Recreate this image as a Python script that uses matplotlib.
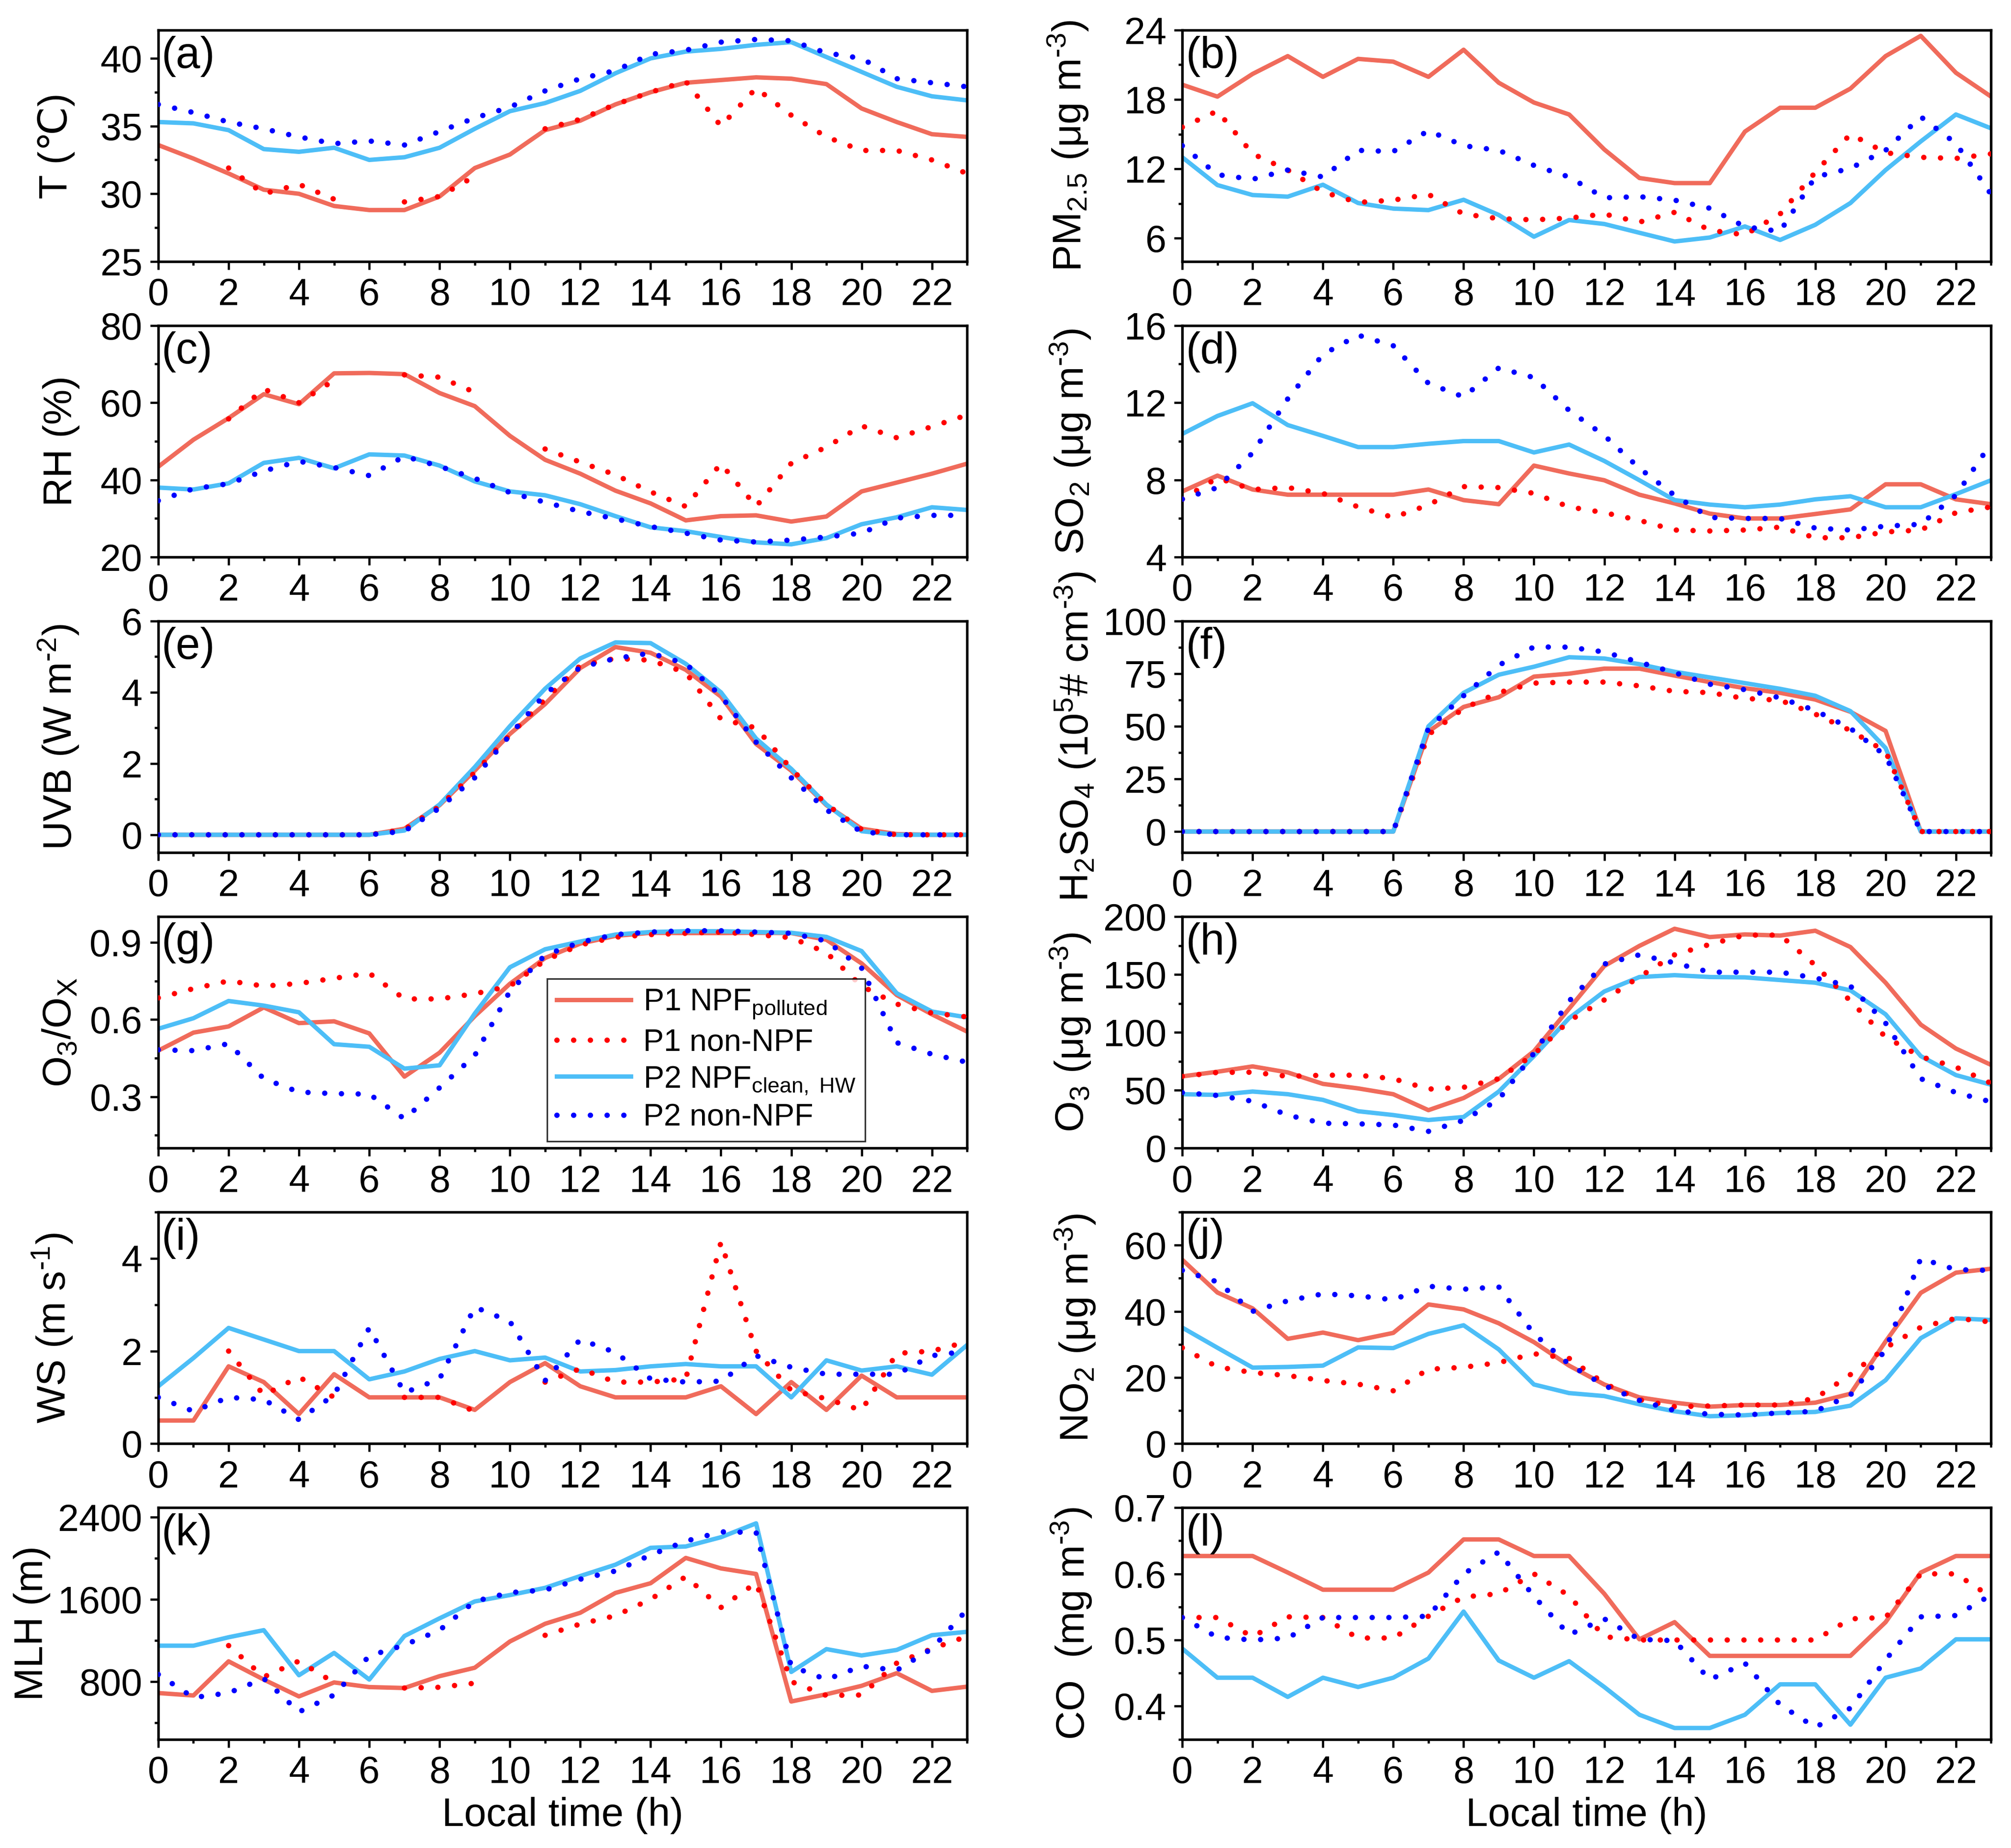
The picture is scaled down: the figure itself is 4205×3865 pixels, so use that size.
import numpy as np
import matplotlib
matplotlib.use('Agg')
from matplotlib import pyplot as plt
from matplotlib.ticker import MultipleLocator, AutoMinorLocator

plt.rcParams['font.family'] = ['Liberation Sans', 'DejaVu Sans']
plt.rcParams['mathtext.fontset'] = 'custom'
plt.rcParams['mathtext.rm'] = 'Liberation Sans'
plt.rcParams['mathtext.it'] = 'Liberation Sans:italic'
plt.rcParams['mathtext.bf'] = 'Liberation Sans:bold'

nan = np.nan
hours = np.arange(24)

# (a) temperature
T_p1_npf = [33.6, 32.6, 31.5, 30.3, 30.0, 29.1, 28.8, 28.8, 29.8, 31.9, 32.9, 34.7, 35.4, 36.6, 37.5, 38.2, 38.4, 38.6, 38.5, 38.1, 36.3, 35.3, 34.4, 34.2]
T_p1_non = [nan, nan, 31.9, 30.0, 30.7, 29.6, nan, 29.4, 29.8, 31.3, nan, 34.8, 35.5, 36.6, 37.5, 38.3, 35.0, 37.8, 35.8, 34.2, 33.2, 33.2, 32.5, 31.5]
T_p2_npf = [35.3, 35.2, 34.7, 33.3, 33.1, 33.4, 32.5, 32.7, 33.4, 34.8, 36.1, 36.7, 37.6, 38.9, 40.0, 40.5, 40.7, 41.0, 41.2, 40.1, 39.0, 37.9, 37.2, 36.9]
T_p2_non = [36.6, 36.0, 35.3, 34.8, 34.2, 33.7, 33.9, 33.6, 34.6, 35.6, 36.4, 37.6, 38.5, 39.1, 40.3, 40.6, 41.2, 41.4, 41.3, 40.4, 40.0, 38.5, 38.2, 37.9]

# (b) PM2.5
PM_p1_npf = [19.27, 18.24, 20.2, 21.74, 19.95, 21.5, 21.26, 19.95, 22.29, 19.44, 17.73, 16.7, 13.68, 11.21, 10.77, 10.77, 15.22, 17.28, 17.28, 18.93, 21.74, 23.49, 20.3, 18.24]
PM_p1_non = [15.6, 17.0, 13.3, 11.9, 10.0, 9.1, 9.3, 9.8, 8.1, 7.7, 7.6, 7.75, 8.1, 7.4, 8.25, 6.7, 6.3, 8.1, 11.7, 15.0, 13.4, 13.0, 12.9, 13.3]
PM_p2_npf = [13.0, 10.6, 9.74, 9.6, 10.63, 9.05, 8.57, 8.44, 9.33, 8.02, 6.14, 7.58, 7.24, 6.48, 5.73, 6.07, 7.03, 5.86, 7.17, 9.05, 11.9, 14.37, 16.7, 15.5]
PM_p2_non = [14.0, 11.5, 11.1, 11.9, 11.3, 13.6, 13.5, 15.3, 14.0, 13.6, 12.3, 11.3, 9.5, 9.6, 9.3, 8.6, 7.0, 6.6, 11.3, 12.05, 13.6, 16.5, 14.2, 9.8]

# (c) RH
RH_p1_npf = [43.4, 50.4, 56.0, 62.2, 59.6, 67.6, 67.7, 67.4, 62.5, 59.1, 51.4, 45.2, 41.6, 37.2, 33.9, 29.5, 30.6, 30.8, 29.2, 30.5, 37.0, 39.3, 41.6, 44.2]
RH_p1_non = [nan, nan, 55.8, 63.5, 60.0, 65.8, nan, 67.2, 66.6, 62.7, nan, 48.0, 44.6, 41.3, 36.9, 33.1, 44.2, 33.1, 44.3, 48.5, 54.0, 50.9, 53.8, 56.8]
RH_p2_npf = [38.0, 37.5, 39.1, 44.4, 45.7, 43.0, 46.6, 46.3, 43.7, 39.6, 37.0, 36.0, 33.7, 30.6, 27.7, 26.7, 25.2, 23.8, 23.3, 24.9, 28.5, 30.3, 32.9, 32.2]
RH_p2_non = [34.6, 37.7, 39.0, 42.3, 44.8, 43.2, 41.1, 46.1, 43.5, 40.4, 36.7, 34.2, 31.8, 29.9, 27.9, 26.2, 24.4, 23.9, 24.4, 25.2, 26.2, 30.1, 30.8, 30.8]

# (d) SO2
SO2_p1_npf = [7.4, 8.22, 7.5, 7.23, 7.23, 7.23, 7.23, 7.5, 6.95, 6.74, 8.74, 8.33, 7.98, 7.23, 6.78, 6.25, 6.0, 6.0, 6.23, 6.47, 7.77, 7.77, 6.99, 6.74]
SO2_p1_non = [7.0, 8.1, 7.5, 7.6, 7.3, 6.6, 6.05, 6.7, 7.65, 7.6, 7.3, 6.6, 6.3, 5.9, 5.4, 5.35, 5.4, 5.55, 5.0, 5.0, 5.3, 5.4, 6.3, 6.6]
SO2_p2_npf = [10.38, 11.31, 11.97, 10.84, 10.28, 9.7, 9.7, 9.87, 10.01, 10.01, 9.42, 9.83, 8.98, 7.98, 6.95, 6.72, 6.58, 6.72, 6.99, 7.15, 6.58, 6.58, 7.26, 7.98]
SO2_p2_non = [7.0, 7.6, 9.4, 12.2, 14.5, 15.5, 14.95, 13.0, 12.3, 13.8, 13.3, 11.6, 10.3, 8.6, 7.2, 6.05, 6.0, 6.0, 5.5, 5.4, 5.6, 5.7, 7.2, 9.9]

# (e) UVB
UVB_p1_npf = [0, 0, 0, 0, 0, 0, 0, 0.17, 0.83, 1.8, 2.83, 3.67, 4.68, 5.27, 5.11, 4.63, 3.88, 2.55, 1.8, 0.83, 0.17, 0.02, 0, 0]
UVB_p1_non = [0, 0, 0, 0, 0, 0, 0, 0.15, 0.8, 1.75, 2.8, 3.8, 4.75, 4.95, 4.9, 4.55, 3.25, 3.0, 1.85, 0.85, 0.15, 0, 0, 0]
UVB_p2_npf = [0, 0, 0, 0, 0, 0, 0, 0.12, 0.85, 1.9, 3.05, 4.1, 4.95, 5.4, 5.38, 4.8, 4.0, 2.7, 1.85, 0.85, 0.1, 0, 0, 0]
UVB_p2_non = [0, 0, 0, 0, 0, 0, 0, 0.1, 0.75, 1.6, 2.8, 3.95, 4.7, 4.95, 5.1, 4.8, 3.9, 2.6, 1.6, 0.7, 0.08, 0, 0, 0]

# (f) H2SO4
H2SO4_p1_npf = [0, 0, 0, 0, 0, 0, 0, 47.5, 59.2, 63.8, 73.6, 75.0, 77.4, 77.4, 74.1, 71.0, 68.1, 65.9, 62.7, 56.9, 47.8, 0, 0, 0]
H2SO4_p1_non = [0, 0, 0, 0, 0, 0, 0, 46.0, 58.5, 66.0, 70.5, 71.0, 71.0, 69.2, 66.6, 66.0, 63.2, 62.4, 55.8, 48.0, 38.0, 0, 0, 0]
H2SO4_p2_npf = [0, 0, 0, 0, 0, 0, 0, 50.0, 65.9, 74.5, 78.3, 82.8, 82.2, 79.5, 75.9, 73.2, 70.5, 67.8, 64.5, 57.2, 39.7, 0, 0, 0]
H2SO4_p2_non = [0, 0, 0, 0, 0, 0, 0, 49.0, 64.5, 79.0, 87.7, 87.6, 85.3, 80.4, 75.5, 70.0, 67.4, 63.5, 57.5, 49.0, 36.0, 0, 0, 0]

# (g) O3/Ox
OX_p1_npf = [0.479, 0.549, 0.573, 0.647, 0.586, 0.593, 0.546, 0.378, 0.471, 0.613, 0.739, 0.839, 0.895, 0.925, 0.937, 0.936, 0.936, 0.937, 0.936, 0.91, 0.818, 0.695, 0.62, 0.553]
OX_p1_non = [0.684, 0.72, 0.75, 0.73, 0.74, 0.76, 0.78, 0.68, 0.68, 0.70, 0.73, 0.83, 0.89, 0.92, 0.93, 0.935, 0.94, 0.93, 0.918, 0.86, 0.73, 0.66, 0.625, 0.61]
OX_p2_npf = [0.564, 0.605, 0.672, 0.654, 0.628, 0.504, 0.494, 0.409, 0.422, 0.623, 0.803, 0.873, 0.903, 0.93, 0.94, 0.943, 0.943, 0.94, 0.937, 0.921, 0.866, 0.702, 0.631, 0.608]
OX_p2_non = [0.482, 0.479, 0.506, 0.37, 0.318, 0.312, 0.31, 0.214, 0.335, 0.46, 0.71, 0.85, 0.90, 0.93, 0.94, 0.945, 0.945, 0.94, 0.935, 0.905, 0.80, 0.51, 0.465, 0.434]

# (h) O3
O3_p1_npf = [62, 66, 70.6, 65.4, 55.5, 51.6, 46.6, 32.8, 43.3, 59.8, 83.7, 120.5, 157.3, 174.7, 189.5, 182.3, 184.6, 183.6, 187.8, 173.7, 142.9, 106.7, 86, 71.9]
O3_p1_non = [62, 65.4, 65.6, 62, 63, 63, 60, 51, 52.5, 60, 81, 110, 128, 148, 167, 176, 184, 184, 158, 127, 96, 79, 70, 56]
O3_p2_npf = [46.6, 46, 48.9, 46.6, 41.7, 31.9, 28.6, 24.3, 26.9, 48.9, 79.5, 112.3, 135.3, 147.8, 149.4, 147.8, 147.5, 145.2, 142.9, 136.3, 115.6, 79.5, 63.1, 54.8]
O3_p2_non = [48, 45.5, 40.5, 28.5, 21.5, 21, 20, 14.5, 24, 42, 82, 127, 159, 167, 160, 152, 152, 152, 147, 140, 108, 60, 48, 40]

# (i) wind speed
WS_p1_npf = [0.5, 0.5, 1.67, 1.33, 0.64, 1.5, 1.0, 1.0, 1.0, 0.73, 1.33, 1.74, 1.24, 1.0, 1.0, 1.0, 1.24, 0.64, 1.33, 0.73, 1.47, 1.0, 1.0, 1.0]
WS_p1_non = [nan, nan, 2.0, 1.05, 1.44, 1.0, nan, 1.0, 1.0, 0.7, nan, 1.33, 1.62, 1.33, 1.33, 1.4, 4.35, 2.0, 1.15, 0.97, 0.72, 1.95, 2.0, 2.2]
WS_p2_npf = [1.24, 1.85, 2.5, 2.25, 2.0, 2.0, 1.39, 1.56, 1.83, 2.0, 1.8, 1.86, 1.56, 1.59, 1.67, 1.72, 1.67, 1.67, 1.0, 1.8, 1.58, 1.67, 1.49, 2.13]
WS_p2_non = [1.0, 0.7, 1.0, 0.95, 0.52, 1.05, 2.5, 1.1, 1.4, 2.95, 2.64, 1.36, 2.25, 1.97, 1.4, 1.33, 1.35, 1.9, 1.65, 1.5, 1.5, 1.5, 1.9, 2.0]

# (j) NO2
NO2_p1_npf = [55.6, 45.7, 40.9, 31.7, 33.6, 31.3, 33.5, 42.1, 40.6, 36.4, 30.7, 23.6, 17.9, 14.0, 12.4, 11.2, 11.7, 11.7, 12.4, 15.1, 30.9, 45.6, 51.7, 52.9]
NO2_p1_non = [29.0, 23.2, 21.5, 20.6, 19.1, 18.0, 16.0, 22.5, 23.1, 24.5, 27.2, 25.8, 18.2, 13.3, 11.2, 11.4, 11.7, 11.7, 13.7, 20.9, 29.0, 35.2, 37.9, 36.8]
NO2_p2_npf = [35.1, 29.0, 23.0, 23.2, 23.6, 29.1, 28.9, 33.2, 35.8, 28.5, 17.9, 15.3, 14.4, 11.9, 9.8, 8.3, 8.6, 9.3, 9.6, 11.5, 19.2, 31.9, 37.9, 37.4]
NO2_p2_non = [52.4, 48.9, 40.0, 43.2, 45.3, 44.7, 43.5, 47.6, 46.7, 47.4, 33.2, 24.0, 17.6, 13.1, 10.0, 8.9, 8.7, 9.3, 9.8, 14.7, 28.4, 56.0, 52.6, 52.4]

# (k) mixing layer height
MLH_p1_npf = [689, 665, 997, 820, 656, 792, 747, 738, 853, 935, 1190, 1362, 1469, 1662, 1756, 2002, 1900, 1846, 607, 677, 759, 882, 710, 751]
MLH_p1_non = [nan, nan, 1150, 845, 1000, 790, nan, 738, 745, 785, nan, 1250, 1360, 1440, 1600, 1820, 1520, 1760, 800, 665, 670, 980, 1120, 1240]
MLH_p2_npf = [1149, 1149, 1231, 1300, 862, 1079, 820, 1243, 1415, 1579, 1641, 1711, 1826, 1936, 2100, 2113, 2203, 2338, 894, 1116, 1054, 1108, 1251, 1284]
MLH_p2_non = [870, 645, 690, 830, 505, 670, 1050, 1155, 1300, 1580, 1665, 1690, 1795, 1875, 2030, 2165, 2255, 2250, 950, 820, 950, 910, 1120, 1500]

# (l) CO
CO_p1_npf = [0.627, 0.627, 0.627, 0.602, 0.576, 0.576, 0.576, 0.602, 0.652, 0.652, 0.627, 0.627, 0.570, 0.501, 0.527, 0.476, 0.476, 0.476, 0.476, 0.476, 0.527, 0.602, 0.627, 0.627]
CO_p1_non = [0.534, 0.534, 0.505, 0.535, 0.534, 0.503, 0.503, 0.536, 0.565, 0.57, 0.6, 0.567, 0.505, 0.5, 0.5, 0.5, 0.5, 0.5, 0.5, 0.532, 0.534, 0.6, 0.6, 0.565]
CO_p2_npf = [0.487, 0.443, 0.443, 0.414, 0.443, 0.429, 0.443, 0.472, 0.543, 0.469, 0.443, 0.468, 0.429, 0.387, 0.367, 0.367, 0.387, 0.433, 0.433, 0.372, 0.443, 0.457, 0.501, 0.501]
CO_p2_non = [0.534, 0.504, 0.5, 0.503, 0.534, 0.534, 0.534, 0.536, 0.6, 0.633, 0.566, 0.508, 0.532, 0.501, 0.499, 0.44, 0.465, 0.402, 0.368, 0.397, 0.47, 0.535, 0.537, 0.568]

labels = [r'P1 NPF$_{\mathrm{polluted}}$', 'P1 non-NPF',
          r'P2 NPF$_{\mathrm{clean,\ HW}}$', 'P2 non-NPF']

# panel: letter, series, ylabel, ylim, major step
panels = [
    ('(a)', (T_p1_npf, T_p1_non, T_p2_npf, T_p2_non), 'T (℃)', (25, 42.1), 5),
    ('(b)', (PM_p1_npf, PM_p1_non, PM_p2_npf, PM_p2_non), r'PM$_{2.5}$ (μg m$^{\text{-}3}$)', (4, 24), 6),
    ('(c)', (RH_p1_npf, RH_p1_non, RH_p2_npf, RH_p2_non), 'RH (%)', (20, 80), 20),
    ('(d)', (SO2_p1_npf, SO2_p1_non, SO2_p2_npf, SO2_p2_non), r'SO$_2$ (μg m$^{\text{-}3}$)', (4, 16), 4),
    ('(e)', (UVB_p1_npf, UVB_p1_non, UVB_p2_npf, UVB_p2_non), r'UVB (W m$^{\text{-}2}$)', (-0.5, 6), 2),
    ('(f)', (H2SO4_p1_npf, H2SO4_p1_non, H2SO4_p2_npf, H2SO4_p2_non), r'H$_2$SO$_4$ (10$^5$# cm$^{\text{-}3}$)', (-10, 100), 25),
    ('(g)', (OX_p1_npf, OX_p1_non, OX_p2_npf, OX_p2_non), r'O$_3$/O$_\mathrm{X}$', (0.1, 1.0), 0.3),
    ('(h)', (O3_p1_npf, O3_p1_non, O3_p2_npf, O3_p2_non), r'O$_3$ (μg m$^{\text{-}3}$)', (0, 200), 50),
    ('(i)', (WS_p1_npf, WS_p1_non, WS_p2_npf, WS_p2_non), r'WS (m s$^{\text{-}1}$)', (0, 5), 2),
    ('(j)', (NO2_p1_npf, NO2_p1_non, NO2_p2_npf, NO2_p2_non), r'NO$_2$ (μg m$^{\text{-}3}$)', (0, 70), 20),
    ('(k)', (MLH_p1_npf, MLH_p1_non, MLH_p2_npf, MLH_p2_non), 'MLH (m)', (240, 2490), 800),
    ('(l)', (CO_p1_npf, CO_p1_non, CO_p2_npf, CO_p2_non), r'CO  (mg m$^{\text{-}3}$)', (0.35, 0.7), 0.1),
]

# y-label centre, in axes fraction
ylabel_x = [-0.126, -0.141, -0.120, -0.138, -0.123, -0.132,
            -0.121, -0.138, -0.131, -0.132, -0.156, -0.137]

red_s = '#F06B5B'
blue_s = '#4DBEF7'
red_d = '#FF0000'
blue_d = '#0000FF'
dots = (0, (0.01, 3.1))

fig = plt.figure(figsize=(4205/300, 3865/300), dpi=300)

lefts = [0.0787, 0.5879]
width = 0.4022
height = 0.1253
bottoms = [0.8585 - r*0.15993 for r in range(6)]

for k, (tag, ser, ylab, ylim, step) in enumerate(panels):
    r, c = divmod(k, 2)
    ax = fig.add_axes([lefts[c], bottoms[r], width, height])
    a, b, cc, d = [np.array(s, dtype=float) for s in ser]
    ax.plot(hours, a, color=red_s, lw=2.2, label=labels[0], zorder=2)
    ax.plot(hours, cc, color=blue_s, lw=2.2, label=labels[2], zorder=2)
    ax.plot(hours, b, color=red_d, lw=2.7, ls=dots, dash_capstyle='round', label=labels[1], zorder=3)
    ax.plot(hours, d, color=blue_d, lw=2.7, ls=dots, dash_capstyle='round', label=labels[3], zorder=3)

    ax.set_xlim(0, 23)
    ax.set_ylim(*ylim)
    ax.xaxis.set_major_locator(MultipleLocator(2))
    ax.xaxis.set_minor_locator(MultipleLocator(1))
    ax.yaxis.set_major_locator(MultipleLocator(step))
    ax.yaxis.set_minor_locator(AutoMinorLocator(2))
    ax.tick_params(which='both', direction='out', labelsize=19, width=1.1)
    ax.tick_params(which='major', length=4, pad=4)
    ax.tick_params(which='minor', length=2)
    for sp in ax.spines.values():
        sp.set_linewidth(1.3)
    ax.set_ylabel(ylab, fontsize=20)
    ax.yaxis.label.set_verticalalignment('center')
    ax.yaxis.set_label_coords(ylabel_x[k], 0.5)
    ax.text(0.004, 0.975, tag, transform=ax.transAxes, ha='left', va='top', fontsize=22)
    if r == 5:
        ax.set_xlabel('Local time (h)', fontsize=20, labelpad=3)
    if tag == '(g)':
        h, l = ax.get_legend_handles_labels()
        order = [0, 2, 1, 3]
        leg = ax.legend([h[i] for i in order], [l[i] for i in order],
                        loc='lower left', bbox_to_anchor=(0.481, 0.029),
                        fontsize=15.5, frameon=True, fancybox=False, edgecolor='black',
                        handlelength=2.4, labelspacing=0.25, borderpad=0.3,
                        handletextpad=0.4, borderaxespad=0)
        leg.get_frame().set_linewidth(0.8)

fig.savefig('out.png', dpi=300)
